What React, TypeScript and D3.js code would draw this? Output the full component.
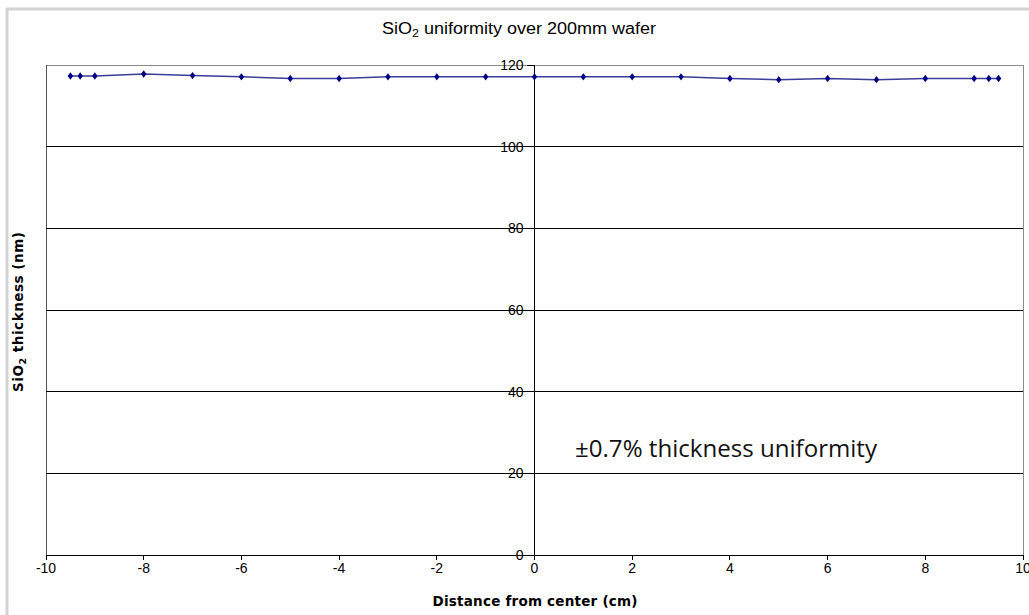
import * as d3 from "d3";

const POS = [-9.5, -9.3, -9, -8, -7, -6, -5, -4, -3, -2, -1, 0, 1, 2, 3, 4, 5, 6, 7, 8, 9, 9.3, 9.5];
const THICK = [117.3, 117.3, 117.3, 117.8, 117.4, 117.1, 116.7, 116.7, 117.1, 117.1, 117.1, 117.1, 117.1, 117.1, 117.1, 116.7, 116.4, 116.7, 116.4, 116.7, 116.7, 116.7, 116.7];
const X_TICKS = [-10, -8, -6, -4, -2, 0, 2, 4, 6, 8, 10];
const Y_TICKS = [0, 20, 40, 60, 80, 100, 120];

const W = 1029;
const H = 615;
const plot = { left: 46, right: 1023, top: 65, bottom: 555 };

export default function App() {
  const x = d3.scaleLinear().domain([-10, 10]).range([plot.left, plot.right]);
  const y = d3.scaleLinear().domain([0, 120]).range([plot.bottom, plot.top]);
  const pts = POS.map((p, i) => ({ p, v: THICK[i] }));

  const line = d3
    .line<{ p: number; v: number }>()
    .x((d) => x(d.p))
    .y((d) => y(d.v));
  const diamond = d3.symbol().type(d3.symbolDiamond2).size(34)();

  const tickFont = "'Liberation Sans', Arial, sans-serif";
  const boldFont = "'DejaVu Sans', Verdana, sans-serif";

  return (
    <svg width={W} height={H} style={{ position: "absolute", left: 0, top: 0, background: "#fff" }}>
      {/* outer frame */}
      <line x1={6} x2={W} y1={9} y2={9} stroke="#d3d3d3" strokeWidth={3} />
      <line x1={7} x2={7} y1={8} y2={H} stroke="#d3d3d3" strokeWidth={3} />

      <text
        x={519}
        y={34}
        textAnchor="middle"
        fontFamily={tickFont}
        fontSize={16}
        fill="#000"
        textLength={274}
        lengthAdjust="spacingAndGlyphs"
      >
        SiO<tspan fontSize={11} dy={3}>2</tspan>
        <tspan dy={-3}> uniformity over 200mm wafer</tspan>
      </text>

      {/* plot area */}
      <rect
        x={plot.left}
        y={plot.top}
        width={plot.right - plot.left}
        height={plot.bottom - plot.top}
        fill="#fff"
        stroke="#8a8a8a"
        strokeWidth={1}
        shapeRendering="crispEdges"
      />
      <line x1={plot.left} x2={plot.left} y1={plot.top} y2={plot.bottom} stroke="#555" shapeRendering="crispEdges" />

      {Y_TICKS.filter((t) => t > 0 && t < 120).map((t) => (
        <line
          key={"g" + t}
          x1={plot.left}
          x2={plot.right}
          y1={y(t)}
          y2={y(t)}
          stroke="#000"
          shapeRendering="crispEdges"
        />
      ))}

      {/* y axis at x = 0 */}
      <line x1={x(0)} x2={x(0)} y1={plot.top} y2={plot.bottom} stroke="#000" shapeRendering="crispEdges" />
      {Y_TICKS.map((t) => (
        <g key={"y" + t}>
          <line x1={x(0) - 8} x2={x(0)} y1={y(t)} y2={y(t)} stroke="#000" shapeRendering="crispEdges" />
          <text
            x={x(0) - 11}
            y={y(t) + 5}
            textAnchor="end"
            fontFamily={tickFont}
            fontSize={14}
            fill="#000"
          >
            {t}
          </text>
        </g>
      ))}

      {/* x axis */}
      <line x1={plot.left} x2={plot.right} y1={plot.bottom} y2={plot.bottom} stroke="#000" shapeRendering="crispEdges" />
      {X_TICKS.map((t) => (
        <g key={"x" + t}>
          <line x1={x(t)} x2={x(t)} y1={plot.bottom} y2={plot.bottom + 5} stroke="#000" shapeRendering="crispEdges" />
          <text x={x(t)} y={573} textAnchor="middle" fontFamily={tickFont} fontSize={14} fill="#000">
            {String(t)}
          </text>
        </g>
      ))}

      <text
        x={535}
        y={606}
        textAnchor="middle"
        fontFamily={boldFont}
        fontWeight="bold"
        fontSize={13.5}
        fill="#000"
        textLength={205}
        lengthAdjust="spacing"
      >
        Distance from center (cm)
      </text>

      <text
        transform={`translate(23,312) rotate(-90)`}
        textAnchor="middle"
        fontFamily={boldFont}
        fontWeight="bold"
        fontSize={13.5}
        fill="#000"
        textLength={160}
        lengthAdjust="spacing"
      >
        SiO<tspan fontSize={9.5} dy={3}>2</tspan>
        <tspan dy={-3}> thickness (nm)</tspan>
      </text>

      {/* series */}
      <path d={line(pts) ?? ""} fill="none" stroke="#3b3b9a" strokeWidth={1.5} />
      {pts.map((d, i) => (
        <path
          key={i}
          d={diamond ?? ""}
          transform={`translate(${x(d.p)},${y(d.v)}) scale(0.75,1)`}
          fill="#000080"
        />
      ))}

      <text
        x={575}
        y={457}
        fontFamily="'Open Sans', 'Noto Sans', sans-serif"
        fontSize={23}
        fill="#111"
        textLength={302}
        lengthAdjust="spacingAndGlyphs"
      >
        ±0.7% thickness uniformity
      </text>
    </svg>
  );
}
